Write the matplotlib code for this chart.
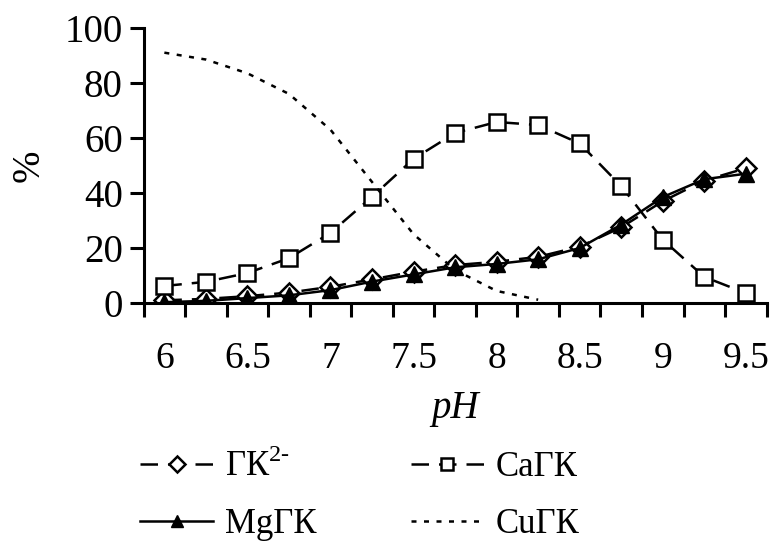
import numpy as np
import matplotlib
matplotlib.use("Agg")
import matplotlib.pyplot as plt

plt.rcParams['font.family'] = ['Liberation Serif', 'DejaVu Serif']
plt.rcParams['mathtext.fontset'] = 'custom'
plt.rcParams['mathtext.rm'] = 'Liberation Serif'

# data
ph = [6, 6.25, 6.5, 6.75, 7, 7.25, 7.5, 7.75, 8, 8.25, 8.5, 8.75, 9, 9.25, 9.5]
gk = [1, 1.5, 2.5, 3.8, 5.9, 8.6, 11.4, 13.8, 15, 16.8, 20.5, 27.5, 37, 44.5, 49]
cagk = [6.2, 7.7, 10.9, 16.3, 25.5, 38.6, 52.4, 61.8, 65.8, 64.7, 58, 42.5, 23, 9.5, 3.6]
mggk = [0.3, 0.8, 1.8, 2.8, 4.7, 7.8, 10.4, 13, 14.2, 15.9, 20, 28.5, 38.5, 45, 47]
cugk = [91, 88.5, 83.5, 76, 63, 44, 25, 12, 4.4, 1.2,
        np.nan, np.nan, np.nan, np.nan, np.nan]
xlabels = ['6', '6.5', '7', '7.5', '8', '8.5', '9', '9.5']

x = np.arange(len(ph))

fig = plt.figure(figsize=(7.72, 5.47), dpi=100)
ax = fig.add_axes([0.186, 0.446, 0.807, 0.503])

lw = 1.8
l1, = ax.plot(x, gk, linestyle=(0, (7, 4)), color='black', lw=lw,
              marker='D', markersize=10, markerfacecolor='white',
              markeredgecolor='black', markeredgewidth=1.8, label='ГК$^{\\text{2-}}$')
l2, = ax.plot(x, cagk, linestyle=(0, (7, 4)), color='black', lw=lw,
              marker='s', markersize=11, markerfacecolor='white',
              markeredgecolor='black', markeredgewidth=1.8, label='CaГК')
l3, = ax.plot(x, mggk, linestyle='-', color='black', lw=lw,
              marker='^', markersize=11, markerfacecolor='black',
              markeredgecolor='black', label='MgГК')
l4, = ax.plot(x, cugk, linestyle=(0, (2, 3)), color='black', lw=lw,
              label='CuГК')

ax.set_xlim(-0.5, len(ph) - 0.5)
ax.set_ylim(0, 100)
ax.set_yticks([0, 20, 40, 60, 80, 100])

# category axis: ticks between categories, labels every other category
ax.set_xticks(np.arange(-0.5, len(ph), 1))
ax.set_xticklabels([])
ax.set_xticks(x[::2], minor=True)
ax.set_xticklabels(xlabels, minor=True)
ax.tick_params(axis='x', which='major', direction='out', length=10, width=2.2)
ax.tick_params(axis='x', which='minor', length=0, pad=28, labelsize=27)
ax.tick_params(axis='y', direction='out', length=10, width=2.2, pad=5,
               labelsize=28)

for s in ['top', 'right']:
    ax.spines[s].set_visible(False)
for s in ['left', 'bottom']:
    ax.spines[s].set_linewidth(2.2)

ax.set_xlabel('pH', fontsize=28, style='italic', labelpad=10)
ax.set_ylabel('%', fontsize=28, labelpad=12)

fig.legend([l1, l3, l2, l4], [l1.get_label(), l3.get_label(),
                              l2.get_label(), l4.get_label()],
           ncol=2, frameon=False, fontsize=25, loc='center',
           bbox_to_anchor=(360 / 772, 1 - 495 / 547),
           handlelength=2.1, handletextpad=0.35, columnspacing=2.7,
           labelspacing=0.7, markerscale=0.85)

fig.savefig('out.png', dpi=100)
